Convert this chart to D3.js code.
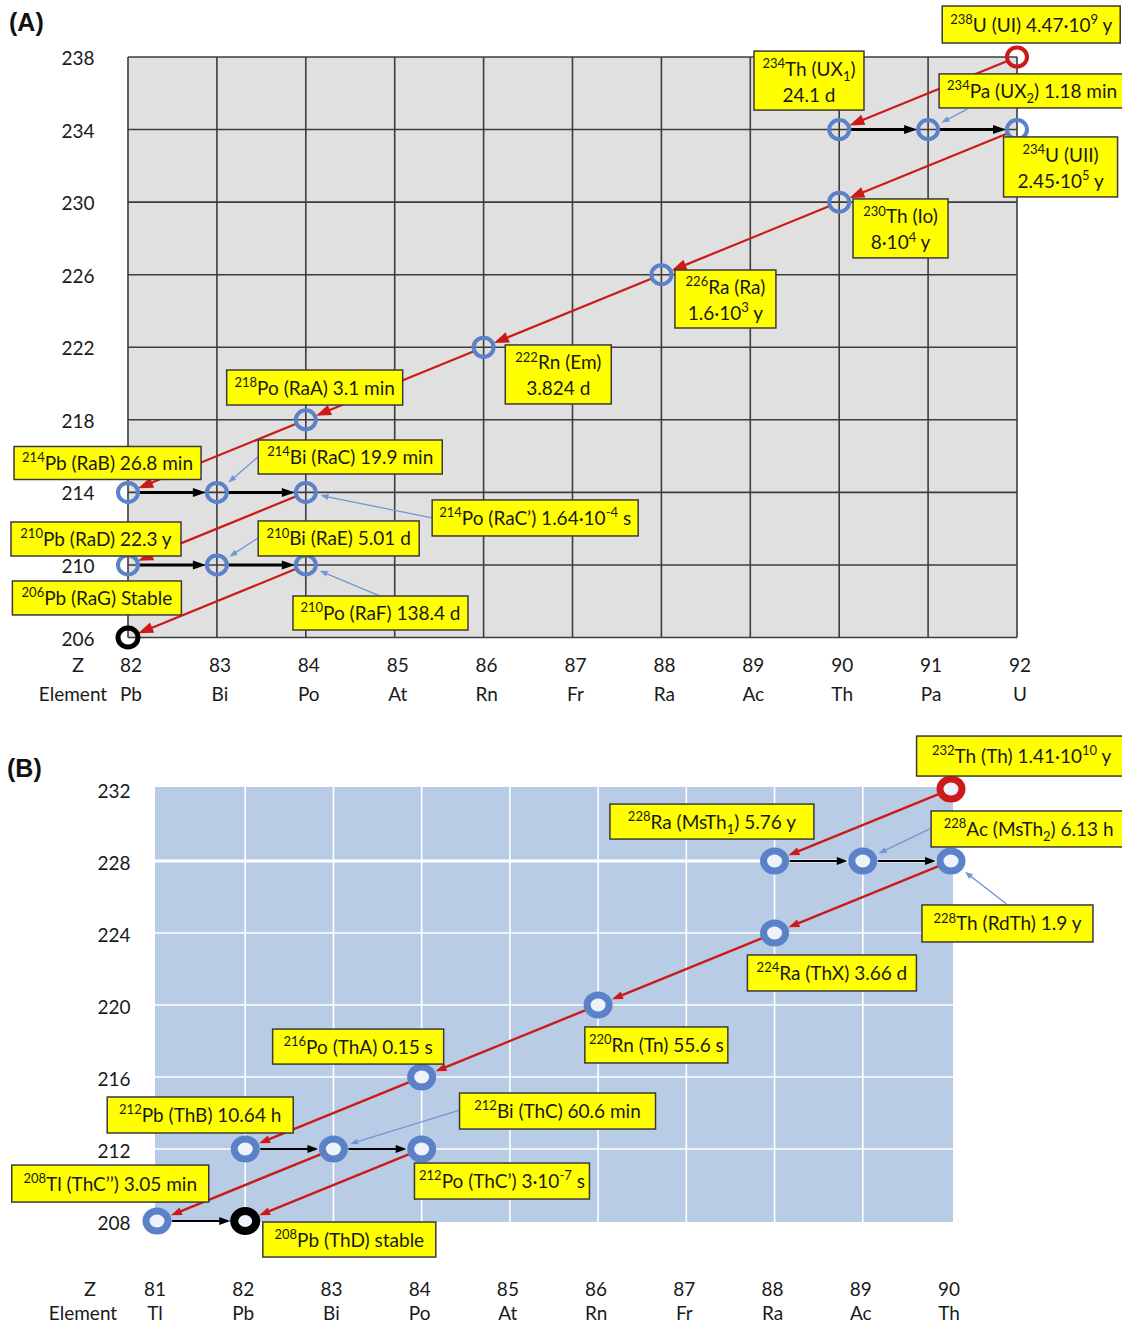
<!DOCTYPE html>
<html><head><meta charset="utf-8">
<script src="https://cdn.jsdelivr.net/npm/d3@7"></script>
<style>
body{margin:0;background:#fff;}
svg{display:block;}
text{font-family:Lato,"Open Sans",sans-serif;fill:#1a1a1a;white-space:pre;}
</style></head><body>
<svg id="chart" width="1122" height="1325"></svg>
<script>
// ---------- (A) Uranium-238 decay series ----------
const uSymbol   = ["U","Th","Pa","U","Th","Ra","Rn","Po","Pb","Bi","Po","Pb","Bi","Po","Pb"];
const uZ        = [92,90,91,92,90,88,86,84,82,83,84,82,83,84,82];
const uMass     = [238,234,234,234,230,226,222,218,214,214,214,210,210,210,206];
const uHistoric = ["UI","UX_1","UX_2","UII","Io","Ra","Em","RaA","RaB","RaC","RaC’","RaD","RaE","RaF","RaG"];
const uHalfLife = ["4.47·10^9 y","24.1 d","1.18 min","2.45·10^5 y","8·10^4 y","1.6·10^3 y","3.824 d",
                   "3.1 min","26.8 min","19.9 min","1.64·10^-4 s","22.3 y","5.01 d","138.4 d","Stable"];
const uDecay    = [["α"],["β"],["β"],["α"],["α"],["α"],["α"],["α"],["β"],["β"],["α"],["β"],["β"],["α"],[]];
const uZTicks    = [82,83,84,85,86,87,88,89,90,91,92];
const uElements  = ["Pb","Bi","Po","At","Rn","Fr","Ra","Ac","Th","Pa","U"];
const uMassTicks = [206,210,214,218,222,226,230,234,238];

// ---------- (B) Thorium-232 decay series ----------
const tSymbol   = ["Th","Ra","Ac","Th","Ra","Rn","Po","Pb","Bi","Po","Tl","Pb"];
const tZ        = [90,88,89,90,88,86,84,82,83,84,81,82];
const tMass     = [232,228,228,228,224,220,216,212,212,212,208,208];
const tHistoric = ["Th","MsTh_1","MsTh_2","RdTh","ThX","Tn","ThA","ThB","ThC","ThC’","ThC’’","ThD"];
const tHalfLife = ["1.41·10^10 y","5.76 y","6.13 h","1.9 y","3.66 d","55.6 s","0.15 s","10.64 h",
                   "60.6 min","3·10^-7 s","3.05 min","stable"];
const tDecay    = [["α"],["β"],["β"],["α"],["α"],["α"],["α"],["β"],["β","α"],["α"],["β"],[]];
const tZTicks    = [81,82,83,84,85,86,87,88,89,90];
const tElements  = ["Tl","Pb","Bi","Po","At","Rn","Fr","Ra","Ac","Th"];
const tMassTicks = [208,212,216,220,224,228,232];

// Callout placement (box centre in Z / mass-number units, box size in px)
const uCallouts = [
  {z:92.16,a:239.79,w:178,h:37},{z:89.66,a:236.70,w:110,h:59,two:true},{z:92.17,a:236.13,w:186,h:34},
  {z:92.49,a:231.94,w:114,h:60,two:true},{z:90.69,a:228.55,w:95,h:59,two:true},{z:88.72,a:224.66,w:101,h:58,two:true},
  {z:86.84,a:220.50,w:106,h:59,two:true},{z:84.10,a:219.78,w:176,h:35},{z:81.77,a:215.62,w:187,h:33},
  {z:84.50,a:215.95,w:184,h:34},{z:86.58,a:212.59,w:206,h:36},{z:81.64,a:211.43,w:170,h:34},
  {z:84.37,a:211.46,w:161,h:35},{z:84.84,a:207.35,w:175,h:34},{z:81.65,a:208.18,w:169,h:34}
];
const uPointers = [[2,91.44,235.13],[9,83.46,215.95],[10,85.42,212.59],[12,83.46,211.48],[13,84.83,208.29]];

const tCallouts = [
  {z:90.80,a:233.83,w:210,h:40},{z:87.29,a:230.19,w:204,h:35},{z:90.88,a:229.78,w:195,h:36},
  {z:90.64,a:224.53,w:171,h:37},{z:88.65,a:221.78,w:169,h:36},{z:86.66,a:217.78,w:143,h:36},
  {z:83.28,a:217.69,w:171,h:35},{z:81.49,a:213.89,w:186,h:36},{z:85.54,a:214.11,w:196,h:36},
  {z:84.91,a:210.22,w:175,h:36},{z:80.47,a:210.08,w:197,h:37},{z:83.18,a:206.97,w:173,h:35}
];
const tPointers = [[2,89.76,229.78],[3,90.63,225.61],[8,84.44,214.17]];

const svg = d3.select("#chart");
const RED = "#cc1a1a", BLUE = "#5b81c9", LEAD = "#7098d4";

// split "^238U (UX_1)" style strings into normal / superscript / subscript runs
function runs(str) {
  const out = [], re = /\^(-?\d+)|_(\w)/g; let last = 0, m;
  while ((m = re.exec(str))) {
    if (m.index > last) out.push({t: str.slice(last, m.index), k: "n"});
    out.push(m[1] !== undefined ? {t: m[1], k: "sup"} : {t: m[2], k: "sub"});
    last = re.lastIndex;
  }
  if (last < str.length) out.push({t: str.slice(last), k: "n"});
  return out;
}
function writeRich(text, str, fs) {
  let shift = 0;
  runs(str).forEach(r => {
    const target = r.k === "sup" ? -0.40 * fs : r.k === "sub" ? 0.28 * fs : 0;
    text.append("tspan").attr("dy", target - shift)
      .attr("font-size", r.k === "n" ? fs : Math.round(fs * 0.66)).text(r.t);
    shift = target;
  });
}

function arrow(g, x1, y1, x2, y2, o) {
  const dx = x2 - x1, dy = y2 - y1, L = Math.hypot(dx, dy), ux = dx / L, uy = dy / L;
  const sx = x1 + ux * o.gap0, sy = y1 + uy * o.gap0;
  const tx = x2 - ux * o.gap1, ty = y2 - uy * o.gap1;
  const bx = tx - ux * o.head, by = ty - uy * o.head;
  g.append("line").attr("x1", sx).attr("y1", sy).attr("x2", bx + ux * 2).attr("y2", by + uy * 2)
    .attr("stroke", o.color).attr("stroke-width", o.width);
  const hw = o.hw / 2;
  g.append("path").attr("fill", o.color)
    .attr("d", `M${tx},${ty}L${bx - uy * hw},${by + ux * hw}L${bx + uy * hw},${by - ux * hw}Z`);
}

function drawPanel(p) {
  const g = svg.append("g");
  const x = d3.scaleLinear().domain(d3.extent(p.zTicks)).range(p.xRange);
  const y = d3.scaleLinear().domain(d3.extent(p.massTicks)).range(p.yRange);

  g.append("text").attr("x", p.tagPos[0]).attr("y", p.tagPos[1])
    .style("font-family", "'Liberation Sans',Arial,sans-serif").attr("font-weight", "bold")
    .attr("font-size", 25).style("fill", "#111").text(p.tag);

  g.append("rect").attr("x", p.plot[0]).attr("y", p.plot[1])
    .attr("width", p.plot[2] - p.plot[0]).attr("height", p.plot[3] - p.plot[1]).attr("fill", p.bg);

  const vLines = p.edgeGrid ? p.zTicks : p.zTicks.slice(1, -1);
  const hLines = p.edgeGrid ? p.massTicks : p.massTicks.slice(1, -1);
  g.selectAll(null).data(vLines).join("line")
    .attr("x1", d => x(d)).attr("x2", d => x(d)).attr("y1", p.plot[1]).attr("y2", p.plot[3])
    .attr("stroke", p.grid).attr("stroke-width", p.gridW);
  g.selectAll(null).data(hLines).join("line")
    .attr("y1", d => y(d)).attr("y2", d => y(d)).attr("x1", p.plot[0]).attr("x2", p.plot[2])
    .attr("stroke", p.grid).attr("stroke-width", d => d === p.boldGrid ? p.gridW * 2 : p.gridW);

  // mass-number axis
  g.selectAll(null).data(p.massTicks).join("text")
    .attr("x", p.yLabelX).attr("y", d => y(d) + p.yLabelDy).attr("text-anchor", "middle")
    .attr("font-size", 19).text(d => d);
  // Z and element rows
  g.append("text").attr("x", p.rowLabelX[0]).attr("y", p.rowY[0]).attr("text-anchor", "middle")
    .attr("font-size", 20).text("Z");
  g.append("text").attr("x", p.rowLabelX[1]).attr("y", p.rowY[1]).attr("text-anchor", "middle")
    .attr("font-size", 19).text("Element");
  g.selectAll(null).data(p.zTicks).join("text")
    .attr("x", d => x(d) + p.tickDx).attr("y", p.rowY[0]).attr("text-anchor", "middle")
    .attr("font-size", 19).text(d => d);
  g.selectAll(null).data(p.elements).join("text")
    .attr("x", (d, i) => x(p.zTicks[i]) + p.tickDx).attr("y", p.rowY[1]).attr("text-anchor", "middle")
    .attr("font-size", 19).text(d => d);

  // nuclides and decays
  const nucl = p.symbol.map((s, i) => ({i, s, z: p.z[i], a: p.mass[i], decay: p.decay[i]}));
  const find = (z, a) => nucl.find(n => n.z === z && n.a === a);
  const daughters = new Set();
  const decays = [];
  nucl.forEach(n => n.decay.forEach(mode => {
    const d = mode === "α" ? find(n.z - 2, n.a - 4) : find(n.z + 1, n.a);
    if (d) { decays.push({from: n, to: d, mode}); daughters.add(d.i); }
  }));
  nucl.forEach(n => n.role = n.decay.length === 0 ? "stable" : daughters.has(n.i) ? "mid" : "parent");

  const ga = g.append("g");
  decays.forEach(d => {
    const st = d.mode === "α" ? p.alpha : p.beta;
    arrow(ga, x(d.from.z), y(d.from.a), x(d.to.z), y(d.to.a), st);
  });

  const colour = r => r === "parent" ? RED : r === "stable" ? "#000" : BLUE;
  g.selectAll(null).data(nucl).join("ellipse")
    .attr("cx", d => x(d.z)).attr("cy", d => y(d.a))
    .attr("rx", p.ring.rx).attr("ry", p.ring.ry)
    .attr("fill", p.ring.fill).attr("stroke", d => colour(d.role))
    .attr("stroke-width", d => d.role === "stable" ? p.ring.w + 1 : p.ring.w);

  // pointer lines from callouts to nuclides
  const gp = g.append("g");
  p.pointers.forEach(([i, z0, a0]) => {
    arrow(gp, x(z0), y(a0), x(p.z[i]), y(p.mass[i]),
      {gap0: 0, gap1: p.ring.rx + p.ring.w / 2 + 3, head: 8, hw: 6, color: LEAD, width: 1.3});
  });

  // callout boxes
  const gl = g.append("g");
  nucl.forEach((n, i) => {
    const c = p.callouts[i];
    const cx = x(c.z), cy = y(c.a);
    gl.append("rect").attr("x", cx - c.w / 2).attr("y", cy - c.h / 2).attr("width", c.w).attr("height", c.h)
      .attr("fill", "#ffff00").attr("stroke", "#3a3a3a").attr("stroke-width", 1.5);
    const head = `^${n.a}${n.s} (${p.historic[i]})`;
    if (c.two) {
      writeRich(gl.append("text").attr("x", cx).attr("y", cy - 5).attr("text-anchor", "middle"), head, 19);
      writeRich(gl.append("text").attr("x", cx).attr("y", cy + 21).attr("text-anchor", "middle"), p.halfLife[i], 19);
    } else {
      writeRich(gl.append("text").attr("x", cx).attr("y", cy + 7).attr("text-anchor", "middle"),
        head + " " + p.halfLife[i], 19);
    }
  });
}

drawPanel({
  tag: "(A)", tagPos: [9, 31],
  symbol: uSymbol, z: uZ, mass: uMass, historic: uHistoric, halfLife: uHalfLife, decay: uDecay,
  zTicks: uZTicks, elements: uElements, massTicks: uMassTicks,
  callouts: uCallouts, pointers: uPointers,
  xRange: [128, 1017], yRange: [637.5, 57], plot: [128, 57, 1017, 637.5],
  bg: "#e0e0e0", grid: "#3d3d3d", gridW: 1.6, edgeGrid: true,
  yLabelX: 78, yLabelDy: 8, rowLabelX: [78, 73], rowY: [672, 701], tickDx: 3,
  ring: {rx: 10, ry: 9.5, w: 4, fill: "none"},
  alpha: {gap0: 11, gap1: 11, head: 15, hw: 11, color: RED, width: 2.2},
  beta: {gap0: 12, gap1: 11, head: 13, hw: 9, color: "#000", width: 3}
});

drawPanel({
  tag: "(B)", tagPos: [7, 777],
  symbol: tSymbol, z: tZ, mass: tMass, historic: tHistoric, halfLife: tHalfLife, decay: tDecay,
  zTicks: tZTicks, elements: tElements, massTicks: tMassTicks,
  callouts: tCallouts, pointers: tPointers,
  xRange: [157, 951], yRange: [1221, 789], plot: [155, 787, 953, 1222],
  bg: "#b9cce5", grid: "#ffffff", gridW: 1.6, edgeGrid: false, boldGrid: 228,
  yLabelX: 114, yLabelDy: 9, rowLabelX: [90, 83], rowY: [1296, 1320], tickDx: -2,
  ring: {rx: 11, ry: 10, w: 7, fill: "#eef2fa"},
  alpha: {gap0: 14, gap1: 15, head: 11, hw: 8, color: RED, width: 2.4},
  beta: {gap0: 15, gap1: 15, head: 11, hw: 8, color: "#000", width: 2}
});
</script>
</body></html>
